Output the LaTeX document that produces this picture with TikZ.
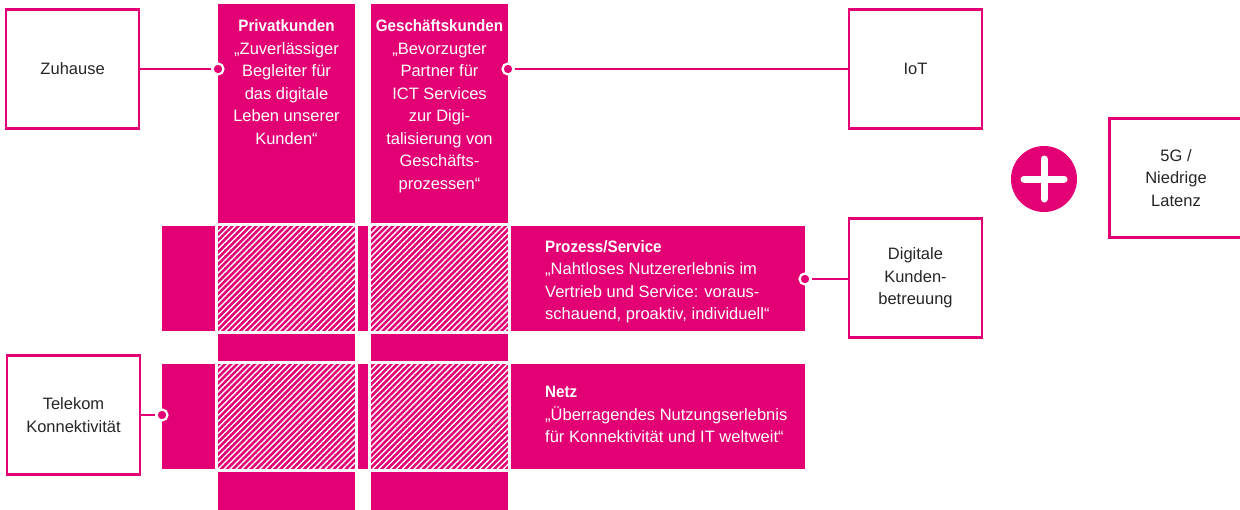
\documentclass[tikz,border=0pt]{standalone}
\usepackage{fontspec}
\setmainfont{Liberation Sans}[BoldFeatures={FakeStretch=0.92}]
\usepackage{xcolor}
\definecolor{tmagenta}{RGB}{226,0,116}
\definecolor{tgrey}{RGB}{38,38,38}
\usepackage{tikz}
\usetikzlibrary{
  positioning,
  patterns.meta
}
\newcommand{\bodyfont}{\fontsize{16.5}{22.5}\selectfont}
\tikzset{
  tbox/.style={draw=tmagenta, line width=2.5pt, fill=white,
    minimum width=133pt, minimum height=119pt,
    align=center, text=tgrey, font=\bodyfont},
  pinktext/.style={text=white, inner sep=0pt, font=\bodyfont},
  hub/.style={circle, fill=tmagenta, draw=white, line width=2.2pt,
    minimum size=11pt, inner sep=0pt},
  link/.style={draw=tmagenta, line width=1.2pt},
  block/.style={fill=tmagenta},
  hatch/.style={pattern={Lines[angle=45, distance=4.2pt, line width=1.4pt]},
    pattern color=white},
}

\begin{document}
\begin{tikzpicture}[x=1pt, y=-1pt]
  \useasboundingbox (0,0) rectangle (1240,509);

  % Columns
  \fill[block] (218,4) rectangle (355,223);
  \fill[block] (371,4) rectangle (508,223);
  \fill[block] (218,334) rectangle (355,361);
  \fill[block] (371,334) rectangle (508,361);
  \fill[block] (218,472) rectangle (355,512);
  \fill[block] (371,472) rectangle (508,512);

  % Rows
  \fill[block] (162,226) rectangle (215,331);
  \fill[block] (358,226) rectangle (368,331);
  \fill[block] (511,226) rectangle (805,331);
  \fill[block] (162,364) rectangle (215,469);
  \fill[block] (358,364) rectangle (368,469);
  \fill[block] (511,364) rectangle (805,469);

  % Crossings
  \fill[block] (218,226) rectangle (355,331);
  \path[hatch] (218,226) rectangle (355,331);
  \fill[block] (371,226) rectangle (508,331);
  \path[hatch] (371,226) rectangle (508,331);
  \fill[block] (218,364) rectangle (355,469);
  \path[hatch] (218,364) rectangle (355,469);
  \fill[block] (371,364) rectangle (508,469);
  \path[hatch] (371,364) rectangle (508,469);

  % Texts in the pink areas
  \node[pinktext, anchor=north, align=center] (privat) at (286.5,19.5)
    {\textbf{Privatkunden}\\„Zuverlässiger\\Begleiter für\\das digitale\\Leben unserer\\Kunden“};
  \node[pinktext, anchor=north, align=center] (geschaeft) at (439.5,19.5)
    {\textbf{Geschäftskunden}\\„Bevorzugter\\Partner für\\ICT Services\\zur Digi-\\talisierung von\\Geschäfts-\\prozessen“};
  \node[pinktext, anchor=north west, align=left] (prozess) at (545,240)
    {\textbf{Prozess/Service}\\„Nahtloses Nutzererlebnis im\\Vertrieb und Service: voraus-\\schauend, proaktiv, individuell“};
  \node[pinktext, anchor=north west, align=left] (netz) at (545,386)
    {\textbf{Netz}\\„Überragendes Nutzungserlebnis\\für Konnektivität und IT weltweit“};

  % Outer boxes
  \node[tbox] (zuhause) at (72.6,69) {Zuhause};
  \node[tbox] (iot) at (915.5,69) {IoT};
  \node[tbox] (kunden) at (915.5,278) {Digitale\\Kunden-\\betreuung};
  \node[tbox] (telekom) at (73.5,415) {Telekom\\Konnektivität};
  \node[tbox] (latenz) at (1176,178) {5G /\\Niedrige\\Latenz};

  % Plus sign
  \node[circle, fill=tmagenta, minimum size=66pt, inner sep=0pt] (plus) at (1044,179) {};
  \draw[white, line width=7pt, line cap=round]
    ([xshift=-20pt]plus.center) -- ([xshift=20pt]plus.center);
  \draw[white, line width=7pt, line cap=round]
    ([yshift=-20pt]plus.center) -- ([yshift=20pt]plus.center);

  % Links
  \node[hub] (hzuhause) at (218,69) {};
  \node[hub] (hiot) at (508,69) {};
  \node[hub] (hkunden) at (805,279) {};
  \node[hub] (htelekom) at (162,415) {};
  \draw[link] (zuhause.east |- hzuhause) -- (hzuhause);
  \draw[link] (hiot) -- (iot.west |- hiot);
  \draw[link] (hkunden) -- (kunden.west |- hkunden);
  \draw[link] (telekom.east |- htelekom) -- (htelekom);
\end{tikzpicture}
\end{document}
